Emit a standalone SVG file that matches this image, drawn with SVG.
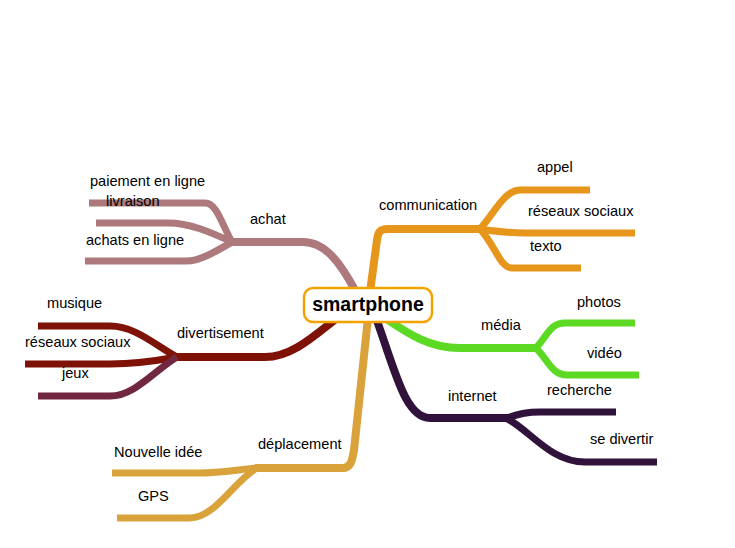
<svg xmlns="http://www.w3.org/2000/svg" width="735" height="548" viewBox="0 0 735 548">
<style>
.l{fill:none;stroke-linecap:butt;stroke-linejoin:round}
.m{stroke-width:8}
.s{stroke-width:7}
.t{font-family:"Liberation Sans",Arial,sans-serif;font-size:14.6px;fill:#000}
.c{font-family:"Liberation Sans",Arial,sans-serif;font-size:19.5px;font-weight:bold;fill:#000}
.ach{stroke:#ad797c}
.div{stroke:#7e1206}
.jeu{stroke:#71273f}
.dep{stroke:#d9a23b}
.com{stroke:#e6961a}
.med{stroke:#5cd922}
.int{stroke:#30123b}
</style>
<rect width="735" height="548" fill="#fff"/>
<g id="connectors">
<path class="l m ach" d="M356 292 C340 262 325 242 303 242 L230 242"/>
<path class="l s ach" d="M232 242 C222 225 217 203 205 203 L89 203"/>
<path class="l s ach" d="M232 242 C210 232 190 223 168 223 L96 223"/>
<path class="l s ach" d="M232 242 C215 252 200 261 186 261 L85 261"/>
<path class="l m div" d="M345 312 C320 330 295 357 265 357 L175 357"/>
<path class="l s div" d="M177 357 C155 345 135 326 110 326 L38 326"/>
<path class="l s div" d="M177 357 C150 362 130 364 110 364 L25 364"/>
<path class="l s jeu" d="M177 357 C155 370 135 396 110 396 L38 396"/>
<path class="l m dep" d="M368 318 L354 450 C352 462 350 468 343 468 L255 468"/>
<path class="l s dep" d="M257 468 C235 470 220 473 200 473 L112 473"/>
<path class="l s dep" d="M257 468 C235 480 215 518 190 518 L117 518"/>
<path class="l m com" d="M370 292 L377 240 C378 232 380 229 388 229 L482 229"/>
<path class="l s com" d="M480 229 C495 212 505 190 520 190 L590 190"/>
<path class="l s com" d="M480 229 C500 232 510 233 525 233 L635 233"/>
<path class="l s com" d="M480 229 C495 245 500 268 512 268 L581 268"/>
<path class="l m med" d="M385 318 C410 335 430 348 460 348 L538 348"/>
<path class="l s med" d="M536 348 C548 335 550 323 565 323 L635 323"/>
<path class="l s med" d="M536 348 C548 360 552 375 567 375 L639 375"/>
<path class="l m int" d="M376 318 C395 370 405 418 430 418 L508 418"/>
<path class="l s int" d="M506 418 C520 414 525 412 540 412 L616 412"/>
<path class="l s int" d="M506 418 C530 430 550 462 585 462 L657 462"/>
</g>
<g id="smartphone">
<rect x="304" y="288" width="128" height="34" rx="9" fill="#fff" stroke="#f5a300" stroke-width="2.5"/>
<text class="c" x="368" y="311" text-anchor="middle">smartphone</text>
</g>
<g id="achat"><text class="t" x="250" y="224">achat</text></g>
<g id="paiement"><text class="t" x="90" y="186">paiement en ligne</text></g>
<g id="livraison"><text class="t" x="106" y="206">livraison</text></g>
<g id="achats"><text class="t" x="86" y="245">achats en ligne</text></g>
<g id="divertisement"><text class="t" x="177" y="338">divertisement</text></g>
<g id="musique"><text class="t" x="47" y="308">musique</text></g>
<g id="reseaux1"><text class="t" x="25" y="347">réseaux sociaux</text></g>
<g id="jeux"><text class="t" x="62" y="378">jeux</text></g>
<g id="deplacement"><text class="t" x="258" y="449">déplacement</text></g>
<g id="nouvelle"><text class="t" x="114" y="457">Nouvelle idée</text></g>
<g id="gps"><text class="t" x="138" y="501">GPS</text></g>
<g id="communication"><text class="t" x="379" y="210">communication</text></g>
<g id="appel"><text class="t" x="537" y="172">appel</text></g>
<g id="reseaux2"><text class="t" x="528" y="216">réseaux sociaux</text></g>
<g id="texto"><text class="t" x="530" y="251">texto</text></g>
<g id="media"><text class="t" x="481" y="330">média</text></g>
<g id="photos"><text class="t" x="577" y="307">photos</text></g>
<g id="video"><text class="t" x="587" y="358">vidéo</text></g>
<g id="internet"><text class="t" x="448" y="401">internet</text></g>
<g id="recherche"><text class="t" x="547" y="395">recherche</text></g>
<g id="sedivertir"><text class="t" x="590" y="444">se divertir</text></g>
</svg>
